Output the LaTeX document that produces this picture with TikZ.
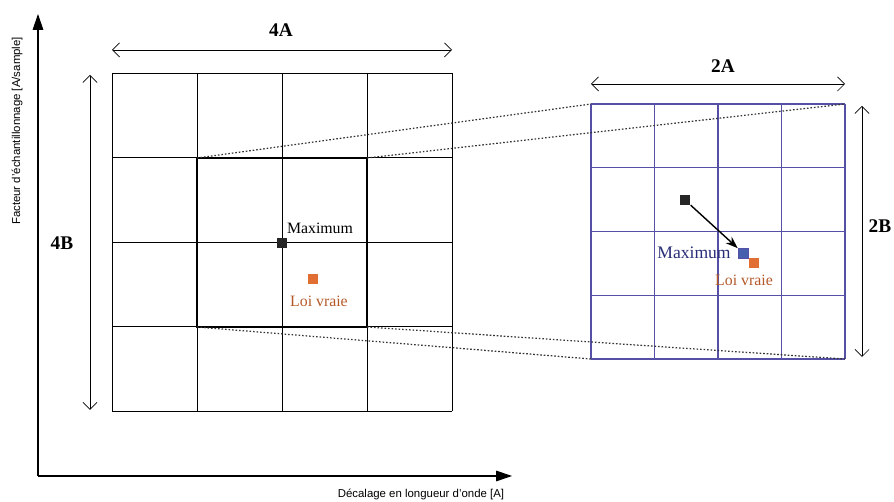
\documentclass[tikz,border=0pt]{standalone}
\usepackage{fontspec}
\setmainfont{Liberation Serif}
\setsansfont{Liberation Sans}
\usepackage{tikz}
\usetikzlibrary{arrows.meta,positioning}
\definecolor{grille}{RGB}{85,80,165}
\definecolor{orangevrai}{RGB}{225,110,50}
\definecolor{bleumax}{RGB}{70,95,175}
\definecolor{textemax}{RGB}{40,45,120}
\tikzset{
  cote/.style={{Straight Barb[length=4pt,width=8pt]}-{Straight Barb[length=4pt,width=8pt]},thin},
  axe/.style={-{Triangle[length=9pt,width=6pt]},semithick},
  pointille/.style={dash pattern=on 0.9pt off 1.1pt,line width=0.7pt,black!80},
  carre/.style={rectangle,inner sep=0pt,minimum size=5.6pt},
  etiq/.style={font=\fontsize{11}{13}\selectfont\bfseries},
  etiqmax/.style={font=\fontsize{9}{11}\selectfont},
  etiqaxe/.style={font=\sffamily\fontsize{6.5}{8}\selectfont}
}

\begin{document}
\begin{tikzpicture}[x=0.02cm,y=-0.02cm]
\useasboundingbox (0,0) rectangle (894,502);
% axes
\coordinate (orig) at (38,476);
\coordinate (haut) at (38,14);
\coordinate (droite) at (512,476);
\draw[axe] (orig) -- (haut);
\draw[axe] (orig) -- (droite);
\node[etiqaxe,rotate=90] (lbly) at (17,131) {Facteur d'échantillonnage [A/sample]};
\node[etiqaxe] (lblx) at (421,494) {Décalage en longueur d'onde [A]};
% grande grille
\foreach \i in {0,...,4}{
  \draw[line width=0.5pt] ({112+85*\i},73) -- ({112+85*\i},411);
  \draw[line width=0.5pt] (112,{73+84.5*\i}) -- (452,{73+84.5*\i});}
\draw[line width=1.4pt] (197,158) rectangle (367,327);
\coordinate (zhg) at (197,158); \coordinate (zhd) at (367,158);
\coordinate (zbg) at (197,327); \coordinate (zbd) at (367,327);
% petite grille
\foreach \i in {0,...,4}{
  \draw[grille,line width=0.7pt] ({591+63.5*\i},104) -- ({591+63.5*\i},359);
  \draw[grille,line width=0.7pt] (591,{104+63.75*\i}) -- (845,{104+63.75*\i});}
\coordinate (phg) at (591,104); \coordinate (phd) at (845,104);
\coordinate (pbg) at (591,359); \coordinate (pbd) at (845,359);
\draw[pointille] (zhg) -- (phg);
\draw[pointille] (zhd) -- (phd);
\draw[pointille] (zbg) -- (pbg);
\draw[pointille] (zbd) -- (pbd);
% cotes
\coordinate (ag) at (112,50); \coordinate (ad) at (452,50);
\coordinate (bh) at (90,75); \coordinate (bb) at (90,410);
\coordinate (a2g) at (591,84); \coordinate (a2d) at (845,84);
\coordinate (b2h) at (862,106); \coordinate (b2b) at (862,357);
\draw[cote] (ag) -- (ad);
\draw[cote] (bh) -- (bb);
\draw[cote] (a2g) -- (a2d);
\draw[cote] (b2h) -- (b2b);
\node[etiq] (lbla) at (281,30) {4A};
\node[etiq] (lblb) at (62,243) {4B};
\node[etiq] (lbla2) at (723,66) {2A};
\node[etiq] (lblb2) at (880,226) {2B};
% points de la grande grille
\node[carre,fill=black!85] (maxg) at (282,243) {};
\node[etiqmax] (lblmaxg) at (320,228) {Maximum};
\node[carre,fill=orangevrai] (vraig) at (313,279) {};
\node[etiqmax,text=orangevrai!80!black] (lblvraig) at (319,301) {Loi vraie};
% points de la petite grille
\node[carre,fill=black!85,minimum size=6pt] (depart) at (685,200) {};
\node[carre,fill=bleumax,draw=grille] (maxd) at (743,253) {};
\node[carre,fill=orangevrai] (vraid) at (754,263) {};
\draw[-{Stealth[length=7pt,width=5pt]},line width=0.8pt] (depart) -- (maxd);
\node[etiqmax,text=textemax,font=\fontsize{10}{12}\selectfont,left=0.5pt of maxd] (lblmaxd) {Maximum};
\node[etiqmax,text=orangevrai!80!black] (lblvraid) at (744,280) {Loi vraie};
\end{tikzpicture}
\end{document}
